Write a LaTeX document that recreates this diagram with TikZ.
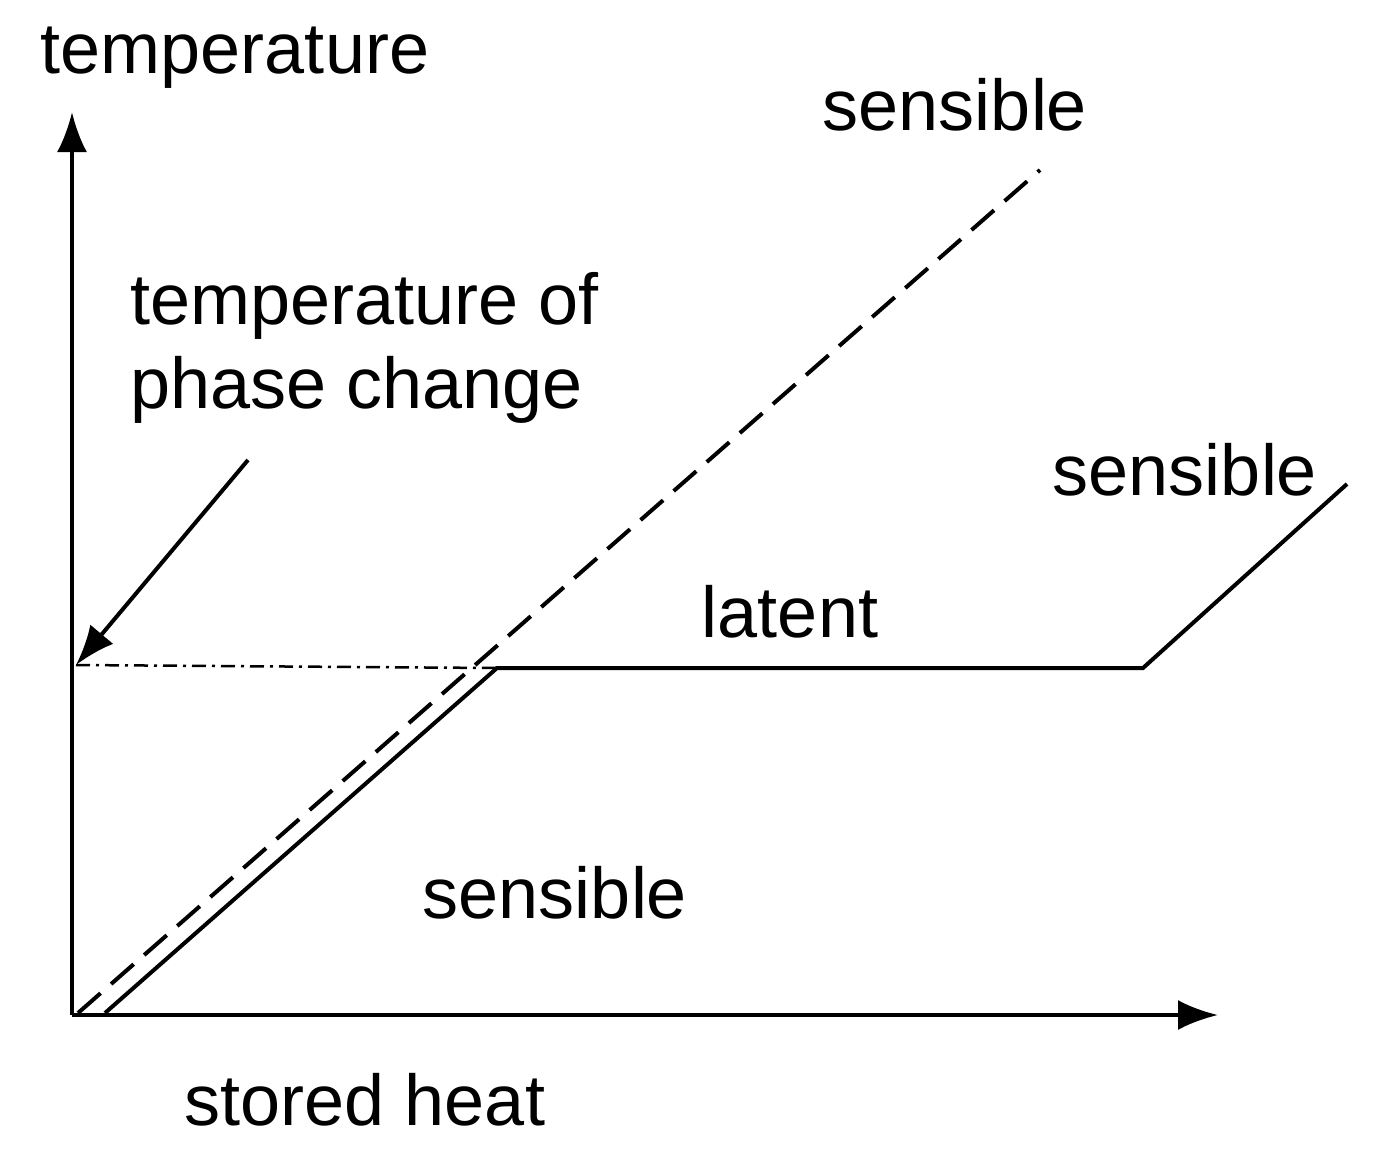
\documentclass[tikz,border=0pt]{standalone}
\usepackage{fontspec}
\setmainfont{Liberation Sans}
\usetikzlibrary{arrows.meta}
\begin{document}
\begin{tikzpicture}[x=1pt,y=-1pt,
  ln/.style={line width=4pt},
  arr/.style={ln,-{Latex[length=40pt,width=30pt]}},
  lbl/.style={font=\fontsize{72}{84}\selectfont,inner sep=0pt}]
\useasboundingbox (0,0) rectangle (1386,1149);
\coordinate (O) at (72,1015);
\coordinate (Y) at (72,112);
\coordinate (X) at (1218,1015);
\draw[arr] (O) -- (Y);
\draw[arr] (O) -- (X);
\coordinate (d0) at (78,1013);
\coordinate (d1) at (1040,170);
\draw[ln,dash pattern=on 30pt off 14pt] (d0) -- (d1);
\coordinate (s0) at (105,1013);
\coordinate (s1) at (497,668);
\coordinate (s2) at (1143,668);
\coordinate (s3) at (1347,484);
\draw[ln] (s0) -- (s1) -- (s2) -- (s3);
\coordinate (p0) at (76,665);
\draw[line width=2.5pt,dash pattern=on 14pt off 6pt on 3pt off 6pt] (p0) -- (s1);
\coordinate (a0) at (248,460);
\draw[arr] (a0) -- (p0);
\node[lbl] (t1) at (235,58) {temperature};
\node[lbl] (t2) at (955,105) {sensible};
\node[lbl,align=left,anchor=west] (t3) at (130,348) {temperature of\\phase change};
\node[lbl] (t4) at (1185,470) {sensible};
\node[lbl] (t5) at (790,612) {latent};
\node[lbl] (t6) at (555,893) {sensible};
\node[lbl] (t7) at (365,1100) {stored heat};
\end{tikzpicture}
\end{document}
